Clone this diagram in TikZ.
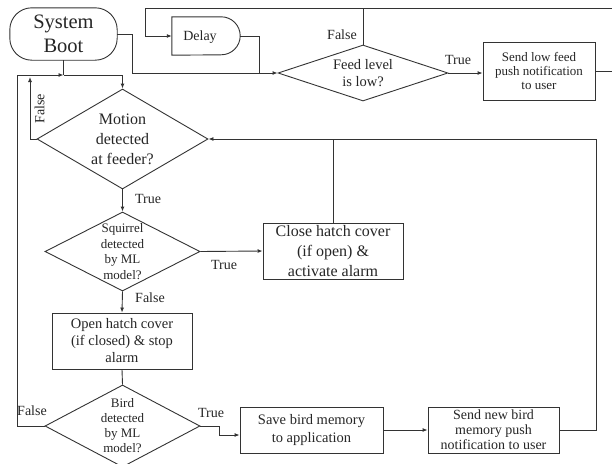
\documentclass[tikz,border=0pt]{standalone}
\usepackage{fontspec}
\setmainfont{Liberation Serif}
\usetikzlibrary{shapes.geometric,arrows.meta}
\newcommand{\fs}[2]{\fontsize{#1}{#2}\selectfont}
\begin{document}
\begin{tikzpicture}[x=1pt,y=-1pt,
  ln/.style={line width=0.9pt,draw=black!80},
  arr/.style={ln,-{Latex[length=5pt,width=4pt]}},
  box/.style={draw=black!80,line width=0.9pt,rectangle,inner sep=0pt,align=center,text=black!85},
  dia/.style={draw=black!80,line width=0.9pt,diamond,inner sep=0pt},
  txt/.style={align=center,text=black!85,inner sep=0pt},
  lbl/.style={text=black!85,inner sep=0pt,font=\fs{14}{16}}
]
\useasboundingbox (0,0) rectangle (612,463);
\fill[white] (0,0) rectangle (612,463);
\clip (0,0) rectangle (612,463);

% nodes
\node[txt,minimum width=107pt,minimum height=52pt,font=\fs{20.5}{24}] (boot) at (63.5,34) {System\\Boot};
\draw[ln] ([yshift=-22pt]boot.north west)
  arc[start angle=180,end angle=90,radius=22pt] -- ([xshift=-22pt]boot.north east)
  arc[start angle=90,end angle=0,radius=22pt] -- ([yshift=22pt]boot.south east)
  arc[start angle=0,end angle=-90,radius=22pt] -- ([xshift=22pt]boot.south west)
  arc[start angle=-90,end angle=-180,radius=22pt] -- cycle;
\node[inner sep=0pt,minimum width=68pt,minimum height=38pt] (delay) at (206,36) {};
\draw[ln] (delay.north west) -- ([xshift=-19pt]delay.north east) arc[start angle=90,end angle=-90,radius=19pt] -- (delay.south west) -- cycle;
\node[txt,font=\fs{14}{16}] at (200,37) {Delay};

\node[dia,minimum width=170pt,minimum height=56pt] (feed) at (363,73) {};
\node[txt,font=\fs{14.5}{16.5}] at (feed) {Feed level\\is low?};
\node[box,minimum width=112pt,minimum height=58pt,font=\fs{13}{14}] (lowfeed) at (539,71) {Send low feed\\push notification\\to user};

\node[dia,minimum width=171pt,minimum height=100pt] (motion) at (122.5,139) {};
\node[txt,font=\fs{16}{20}] at (motion) {Motion\\detected\\at feeder?};

\node[dia,minimum width=155pt,minimum height=79pt] (squirrel) at (122.5,251.5) {};
\node[txt,font=\fs{13}{15.7}] at (squirrel) {Squirrel\\detected\\by ML\\model?};

\node[box,minimum width=140pt,minimum height=56pt,font=\fs{16}{20}] (close) at (333,251) {Close hatch cover\\(if open) \&\\activate alarm};

\node[box,minimum width=140pt,minimum height=56pt,font=\fs{14.5}{17}] (open) at (122,341) {Open hatch cover\\(if closed) \& stop\\alarm};

\node[dia,minimum width=155pt,minimum height=82pt] (bird) at (122.5,426) {};
\node[txt,font=\fs{13}{15}] at (bird) {Bird\\detected\\by ML\\model?};

\node[box,minimum width=143pt,minimum height=46pt,font=\fs{14.5}{18}] (save) at (311.5,430) {Save bird memory\\to application};
\node[box,minimum width=131pt,minimum height=46pt,font=\fs{14}{15}] (sendnew) at (493.5,430) {Send new bird\\memory push\\notification to user};

% coordinates
\coordinate (J1) at (63.5,75);
\coordinate (topL) at (145,8);
\coordinate (topR) at (618,8);
\coordinate (mf) at (30,77);
\coordinate (loopTL) at (17,75);
\coordinate (bt) at (219,435);
\coordinate (rc) at (596,139);
\coordinate (bj) at (132,34);
\coordinate (dj) at (259,36);

% connectors
\draw[arr] (boot.east) -- (bj) |- (feed.west);
\draw[ln] (delay.east) -- (dj) -- (dj |- feed.west);
\draw[arr] (feed.north) |- (topL) |- (delay.west);
\draw[ln] (feed.north |- topL) -- (topR);
\draw[ln] (lowfeed.east) -| (topR);
\draw[arr] (feed.east) -- (feed.east -| lowfeed.west);

\draw[ln] (boot.south) -- (J1);
\draw[arr] (bird.west) -| (loopTL) -- (J1);
\draw[arr] (J1) -| (motion.north);
\draw[arr] (motion.west) -| (mf);

\draw[arr] (motion.south) -- (squirrel.north);
\draw[arr] (squirrel.east) -- (close.west);
\draw[arr] (squirrel.south) -- (open.north);
\draw[ln] (open.south) -- (bird.north);
\draw[arr] (bird.east) -| (bt) -- (bt -| save.west);
\draw[arr] (save.east) -- (sendnew.west);
\draw[arr] (sendnew.east) -| (rc) -- (motion.east);
\draw[ln] (close.north) -- (close.north |- motion.east);

% labels
\node[lbl] at (342,35) {False};
\node[lbl] at (458,60) {True};
\node[lbl,rotate=90] at (39.5,109) {False};
\node[lbl] at (148,199) {True};
\node[lbl] at (224,265) {True};
\node[lbl] at (150,298) {False};
\node[lbl] at (32,411) {False};
\node[lbl] at (211,413) {True};
\end{tikzpicture}
\end{document}
